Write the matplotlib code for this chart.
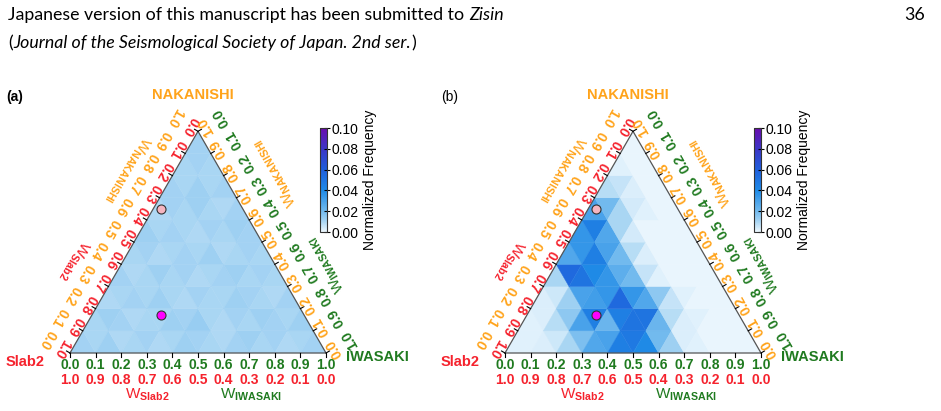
import numpy as np
import matplotlib
matplotlib.use("Agg")
import matplotlib.pyplot as plt
from matplotlib.collections import PolyCollection
from matplotlib.colors import LinearSegmentedColormap, Normalize

# frequencias normalizadas por celula triangular (linha = nivel de NAKANISHI, da base ao topo)
# cada linha: triangulo pra cima, pra baixo, pra cima ... da esquerda p/ direita
freq_a = [
    [0.011, 0.010, 0.012, 0.009, 0.010, 0.011, 0.009, 0.010, 0.012, 0.011, 0.010, 0.009, 0.011, 0.012, 0.010, 0.011, 0.009, 0.010, 0.011],
    [0.010, 0.012, 0.011, 0.009, 0.010, 0.010, 0.012, 0.011, 0.013, 0.010, 0.009, 0.011, 0.010, 0.012, 0.011, 0.010, 0.012],
    [0.009, 0.010, 0.011, 0.010, 0.012, 0.010, 0.009, 0.011, 0.010, 0.010, 0.012, 0.011, 0.010, 0.009, 0.011],
    [0.011, 0.009, 0.010, 0.012, 0.010, 0.011, 0.009, 0.010, 0.011, 0.012, 0.010, 0.011, 0.010],
    [0.010, 0.011, 0.009, 0.010, 0.011, 0.010, 0.012, 0.009, 0.010, 0.011, 0.010],
    [0.012, 0.010, 0.011, 0.010, 0.009, 0.011, 0.010, 0.012, 0.011],
    [0.009, 0.011, 0.010, 0.012, 0.010, 0.009, 0.011],
    [0.011, 0.010, 0.012, 0.010, 0.011],
    [0.010, 0.011, 0.010],
    [0.011],
]
freq_b = [
    [0.002, 0.002, 0.003, 0.005, 0.010, 0.018, 0.028, 0.030, 0.045, 0.048, 0.040, 0.020, 0.012, 0.003, 0.002, 0.001, 0.001, 0.001, 0.001],
    [0.002, 0.003, 0.008, 0.015, 0.030, 0.045, 0.022, 0.045, 0.050, 0.050, 0.022, 0.008, 0.003, 0.002, 0.001, 0.001, 0.001],
    [0.003, 0.005, 0.012, 0.030, 0.032, 0.035, 0.055, 0.035, 0.028, 0.015, 0.006, 0.002, 0.001, 0.001, 0.001],
    [0.010, 0.055, 0.050, 0.040, 0.035, 0.025, 0.020, 0.006, 0.002, 0.001, 0.001, 0.001, 0.001],
    [0.028, 0.035, 0.045, 0.030, 0.020, 0.008, 0.003, 0.001, 0.001, 0.001, 0.001],
    [0.035, 0.045, 0.028, 0.010, 0.004, 0.001, 0.001, 0.001, 0.001],
    [0.030, 0.020, 0.010, 0.004, 0.002, 0.001, 0.001],
    [0.008, 0.006, 0.003, 0.001, 0.001],
    [0.002, 0.001, 0.001],
    [0.001],
]
# pontos marcados (NAKANISHI, IWASAKI)
ponto_rosa = (0.65, 0.03)
ponto_magenta = (0.17, 0.27)

ticks = [round(0.1 * k, 1) for k in range(11)]
cbar_ticks = [0.00, 0.02, 0.04, 0.06, 0.08, 0.10]

RED = "#f5222d"
ORANGE = "#ffa31a"
GREEN = "#1f7a1f"

W, H = 941, 411
plt.rcParams["font.family"] = "Liberation Sans"
plt.rcParams["mathtext.fontset"] = "custom"
plt.rcParams["mathtext.sf"] = "Liberation Sans:bold"
plt.rcParams["mathtext.rm"] = "Liberation Sans"

cmap = LinearSegmentedColormap.from_list("freq", [
    (0.0, "#eef8fe"), (0.1, "#a8d5f3"), (0.2, "#72baee"), (0.4, "#1f8ae6"),
    (0.6, "#1f5edb"), (0.8, "#3b35c6"), (1.0, "#6a0cae")])
norm = Normalize(0, 0.1)

H3 = np.sqrt(3) / 2
S = 256.0   # pixels por unidade
BASE = 353.0


def tern(nak, iwa):
    return iwa + nak / 2, nak * H3


def celulas(rows):
    polys, vals = [], []
    for r, row in enumerate(rows):
        for t, v in enumerate(row):
            i = t // 2
            if t % 2 == 0:
                pts = [(r, i), (r, i + 1), (r + 1, i)]
            else:
                pts = [(r, i + 1), (r + 1, i + 1), (r + 1, i)]
            polys.append([tern(a / 10, b / 10) for a, b in pts])
            vals.append(v)
    return polys, vals


fig = plt.figure(figsize=(W / 100, H / 100), dpi=100)
renderer = fig.canvas.get_renderer()


# cabecalho: pedacos normais e italicos lado a lado
def linha(y, partes, fs):
    x = 8.0
    gap = 0.27 * fs * 100 / 72
    for s, estilo in partes:
        t = fig.text(x / W, 1 - y / H, s, family="Lato", style=estilo, fontsize=fs,
                     va="center", ha="left")
        bb = t.get_window_extent(renderer)
        x = bb.x1 + (gap if s.endswith(" ") is False and estilo == "normal" and s != "(" else 0)
    return x


fs = 12.5
larg = linha(-100, [("Japanese version of this manuscript has been submitted to", "normal"),
                    ("Zisin", "italic")], fs)
for t in list(fig.texts):
    t.remove()
fs = fs * (505 - 8) / (larg - 8)
linha(15, [("Japanese version of this manuscript has been submitted to", "normal"), ("Zisin", "italic")], fs)
x2 = 8.0
for s, estilo in [("(", "normal"), ("Journal of the Seismological Society of Japan. 2nd ser.", "italic"), (")", "normal")]:
    t = fig.text(x2 / W, 1 - 43 / H, s, family="Lato", style=estilo, fontsize=fs, va="center", ha="left")
    x2 = t.get_window_extent(renderer).x1 + 0.5
fig.text(925 / W, 1 - 15 / H, "36", family="Lato", fontsize=fs, va="center", ha="right")


def painel(left, rows, tag, tag_weight, cbar_x):
    m = 0.4
    ybot = BASE + m * S
    ytop = BASE - (H3 + m) * S
    ax = fig.add_axes([(left - m * S) / W, 1 - ybot / H, (1 + 2 * m) * S / W, (ybot - ytop) / H])
    ax.set_xlim(-m, 1 + m)
    ax.set_ylim(-m, H3 + m)
    ax.axis("off")

    polys, vals = celulas(rows)
    pc = PolyCollection(polys, array=np.array(vals), cmap=cmap, norm=norm,
                        edgecolors="face", linewidths=0.3)
    ax.add_collection(pc)
    tri = [tern(0, 0), tern(0, 1), tern(1, 0), tern(0, 0)]
    ax.plot([p[0] for p in tri], [p[1] for p in tri], color="#555555", lw=0.9)

    nL = np.array([-H3, 0.5])
    nR = np.array([H3, 0.5])
    px = 1 / S
    for v in ticks:
        # lado esquerdo (Slab2 / NAKANISHI)
        p = np.array(tern(v, 0))
        ax.plot(*zip(p, p + 4 * px * nL), color="black", lw=0.8)
        q = p + 9 * px * nL
        ax.text(q[0], q[1], f"{abs(1 - v):.1f}", color=RED, fontsize=10, fontweight="bold",
                rotation=240, rotation_mode="anchor", ha="center", va="center")
        q = p + 27 * px * nL
        ax.text(q[0], q[1], f"{v:.1f}", color=ORANGE, fontsize=10, fontweight="bold",
                rotation=240, rotation_mode="anchor", ha="center", va="center")
        # lado direito (NAKANISHI / IWASAKI)
        p = np.array(tern(v, 1 - v))
        ax.plot(*zip(p, p + 4 * px * nR), color="black", lw=0.8)
        q = p + 9 * px * nR
        ax.text(q[0], q[1], f"{v:.1f}", color=ORANGE, fontsize=10, fontweight="bold",
                rotation=120, rotation_mode="anchor", ha="center", va="center")
        q = p + 27 * px * nR
        ax.text(q[0], q[1], f"{abs(1 - v):.1f}", color=GREEN, fontsize=10, fontweight="bold",
                rotation=120, rotation_mode="anchor", ha="center", va="center")
        # base (IWASAKI / Slab2)
        p = np.array(tern(0, v))
        ax.plot([p[0], p[0]], [0, -4 * px], color="black", lw=0.8)
        ax.text(p[0], -12 * px, f"{v:.1f}", color=GREEN, fontsize=10, fontweight="bold",
                ha="center", va="center")
        ax.text(p[0], -27 * px, f"{abs(1 - v):.1f}", color=RED, fontsize=10, fontweight="bold",
                ha="center", va="center")

    # titulos dos eixos
    def titulo(nak, iwa, n, dist, s, cor, rot):
        p = np.array(tern(nak, iwa)) + dist * px * n
        ax.text(p[0], p[1], s, color=cor, fontsize=11, rotation=rot, rotation_mode="anchor",
                ha="center", va="center")

    titulo(0.73, 0, nL, 42, r"W$_{\mathsf{NAKANISHI}}$", ORANGE, 240)
    titulo(0.32, 0, nL, 43, r"W$_{\mathsf{Slab2}}$", RED, 240)
    titulo(0.71, 0.29, nR, 46, r"W$_{\mathsf{NAKANISHI}}$", ORANGE, 120)
    titulo(0.30, 0.70, nR, 45, r"W$_{\mathsf{IWASAKI}}$", GREEN, 120)
    ax.text(0.30, -42 * px, r"W$_{\mathsf{Slab2}}$", color=RED, fontsize=11, ha="center", va="center")
    ax.text(0.707, -42 * px, r"W$_{\mathsf{IWASAKI}}$", color=GREEN, fontsize=11, ha="center", va="center")

    # vertices
    ax.text(0.48, H3 + 36 * px, "NAKANISHI", color=ORANGE, fontsize=10.5, fontweight="bold",
            ha="center", va="center")
    ax.text(-0.176, -9 * px, "Slab2", color=RED, fontsize=10.5, fontweight="bold", ha="center", va="center")
    ax.text(1.2, -4 * px, "IWASAKI", color=GREEN, fontsize=10.5, fontweight="bold", ha="center", va="center")
    ax.text(-0.215, 1.0, tag, fontsize=10, fontweight=tag_weight, ha="center", va="center")

    # pontos
    ax.plot(*tern(*ponto_rosa), "o", ms=6.5, mfc="#f5b5c0", mec="#333333", mew=0.8)
    ax.plot(*tern(*ponto_magenta), "o", ms=6.5, mfc="#ff00ff", mec="#333333", mew=0.8)

    cax = fig.add_axes([cbar_x / W, 1 - 232 / H, 7 / W, 104 / H])
    cb = fig.colorbar(pc, cax=cax, ticks=cbar_ticks, format="%.2f")
    cb.outline.set_linewidth(0.8)
    cb.outline.set_edgecolor("#333333")
    cax.tick_params(direction="inout", length=5, width=0.8, labelsize=10, pad=1)
    cb.set_label("Normalized Frequency", fontsize=10, labelpad=3)
    return ax


painel(70, freq_a, "(a)", "bold", 320)
painel(505, freq_b, "(b)", "normal", 754)

fig.savefig("out.png", dpi=100)
